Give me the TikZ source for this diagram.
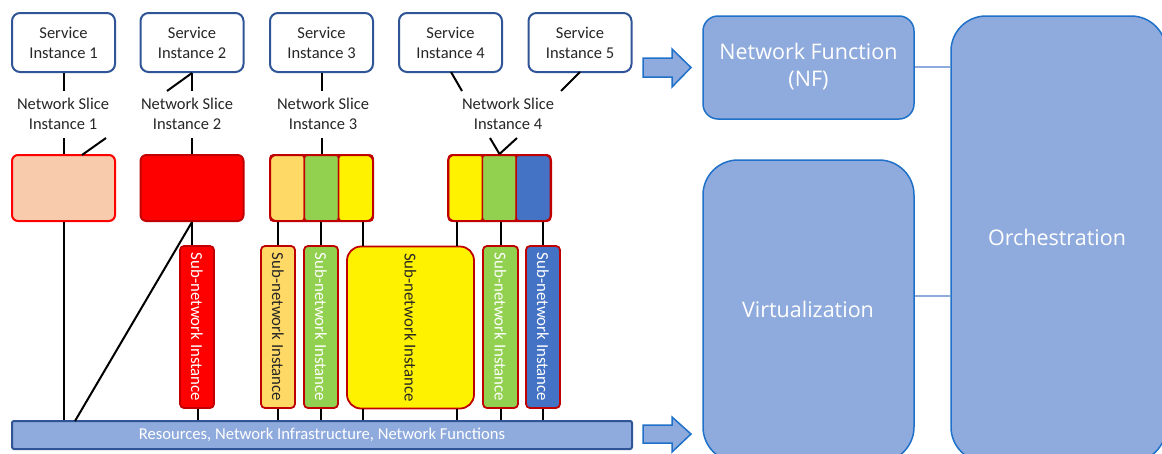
\documentclass[tikz,border=0pt]{standalone}
\usepackage{fontspec}
\setmainfont{Carlito}
\newfontfamily\uifont{Open Sans}
\usetikzlibrary{calc}

\definecolor{svcblue}{RGB}{47,85,151}
\definecolor{lightblue}{RGB}{143,170,220}
\definecolor{midblue}{RGB}{31,112,200}
\definecolor{peach}{RGB}{248,203,173}
\definecolor{darkred}{RGB}{192,0,0}
\definecolor{gold}{RGB}{255,217,102}
\definecolor{lgreen}{RGB}{146,208,80}
\definecolor{royal}{RGB}{68,114,196}
\definecolor{ink}{RGB}{38,38,38}

\tikzset{
  lbl/.style={font=\fontsize{16.5}{20}\selectfont, text=ink, align=center, inner sep=0pt},
  svcbox/.style={draw=svcblue, line width=2pt, fill=white, rounded corners=8pt,
    minimum width=103pt, minimum height=59pt, lbl},
  slicebox/.style={line width=2pt, rounded corners=6pt, minimum width=103pt, minimum height=66pt},
  segbox/.style={draw=darkred, line width=1.6pt, rounded corners=3pt, minimum width=34.3pt, minimum height=66pt},
  subbox/.style={draw=darkred, line width=1.8pt, rounded corners=4pt, minimum height=162pt},
  subtext/.style={rotate=-90, font=\fontsize{16.8}{18}\selectfont, inner sep=0pt},
  conn/.style={draw=black, line width=2pt},
  bigbox/.style={draw=midblue, line width=1.5pt, fill=lightblue},
  biglbl/.style={font=\uifont\fontsize{21.5}{27}\selectfont, text=white, align=center},
  blockarrow/.style={draw=midblue, line width=1.5pt, fill=lightblue, line join=miter},
  link/.style={draw=lightblue, line width=2.5pt}
}

\begin{document}
\begin{tikzpicture}[x=1pt, y=-1pt]
\useasboundingbox (0,0) rectangle (1162,453);
\clip (0,0) rectangle (1162,453);

% service instances
\node[svcbox] (si1) at (63.5,42.5) {Service\\Instance 1};
\node[svcbox] (si2) at (192,42.5) {Service\\Instance 2};
\node[svcbox] (si3) at (321.5,42.5) {Service\\Instance 3};
\node[svcbox] (si4) at (450.5,42.5) {Service\\Instance 4};
\node[svcbox] (si5) at (580,42.5) {Service\\Instance 5};

% network slice instance labels
\node[lbl] (nsi1) at (63,114) {Network Slice\\Instance 1};
\node[lbl] (nsi2) at (187,114) {Network Slice\\Instance 2};
\node[lbl] (nsi3) at (323,114) {Network Slice\\Instance 3};
\node[lbl] (nsi4) at (508,114) {Network Slice\\Instance 4};

% slice boxes
\node[slicebox, draw=red, fill=peach] (sb1) at (63.5,188) {};
\node[slicebox, draw=darkred, fill=red] (sb2) at (192,188) {};
\node[segbox, fill=gold] (sb3a) at (287.2,188) {};
\node[segbox, fill=lgreen] (sb3b) at (321.5,188) {};
\node[segbox, fill=yellow] (sb3c) at (355.8,188) {};
\node[slicebox, draw=darkred] (sb3) at (321.5,188) {};
\node[segbox, fill=yellow] (sb4a) at (465.7,188) {};
\node[segbox, fill=lgreen] (sb4b) at (499.5,188) {};
\node[segbox, fill=royal] (sb4c) at (533.3,188) {};
\node[slicebox, draw=darkred] (sb4) at (499.5,188) {};

% sub-network instances
\node[subbox, fill=red, minimum width=34pt] (snr) at (197,327) {};
\node[subtext, text=white] at (snr.center) {Sub-network Instance};
\node[subbox, fill=gold, minimum width=34pt] (sno) at (278,327) {};
\node[subtext, text=ink] at (sno.center) {Sub-network Instance};
\node[subbox, fill=lgreen, minimum width=34pt] (sng) at (321,327) {};
\node[subtext, text=white] at (sng.center) {Sub-network Instance};
\node[subbox, fill=yellow, minimum width=127pt, rounded corners=14pt] (sny) at (410.5,327.5) {};
\node[subtext, text=ink] at (sny.center) {Sub-network Instance};
\node[subbox, fill=lgreen, minimum width=35pt] (sng2) at (500.5,327) {};
\node[subtext, text=white] at (sng2.center) {Sub-network Instance};
\node[subbox, fill=royal, minimum width=34pt] (snb) at (543,327) {};
\node[subtext, text=white] at (snb.center) {Sub-network Instance};

% resources bar
\node[draw=svcblue, line width=2pt, fill=lightblue, rounded corners=2pt,
  minimum width=620pt, minimum height=28pt, text=white, inner sep=0pt,
  font=\fontsize{16.6}{18}\selectfont] (res) at (322,435)
  {Resources, Network Infrastructure, Network Functions};

% helper coordinates
\coordinate (nsi2in) at (167,91);
\coordinate (si4out) at (451,72);
\coordinate (nsi4a) at (462,91);
\coordinate (si5out) at (580,72);
\coordinate (nsi4b) at (561,91);
\coordinate (nsi1out) at (106,138);
\coordinate (sb1in) at (82,155);
\coordinate (nsi4l) at (490,138);
\coordinate (nsi4r) at (517,138);
\coordinate (res2) at (75,421);
\coordinate (xa) at (363,0);
\coordinate (xb) at (457,0);
\coordinate (xr) at (198,0);

% service to slice label
\draw[conn] (si1.south) -- (si1.south |- 0,91);
\draw[conn] (si2.south) -- (si2.south |- 0,91);
\draw[conn] (si2.south) -- (nsi2in);
\draw[conn] (si3.south) -- (si3.south |- 0,91);
\draw[conn] (si4out) -- (nsi4a);
\draw[conn] (si5out) -- (nsi4b);

% slice label to slice box
\draw[conn] (sb1.north |- 0,138) -- (sb1.north);
\draw[conn] (nsi1out) -- (sb1in);
\draw[conn] (sb2.north |- 0,138) -- (sb2.north);
\draw[conn] (sb3.north |- 0,138) -- (sb3.north);
\draw[conn] (nsi4l) -- (sb4.north);
\draw[conn] (nsi4r) -- (sb4.north);

% slice box to sub-networks and resources
\draw[conn] (sb1.south) -- (sb1.south |- res.north);
\draw[conn] (sb2.south) -- (sb2.south |- snr.north);
\draw[conn] (sb2.south) -- (res2);
\draw[conn] (sno.north |- sb3a.south) -- (sno.north);
\draw[conn] (sng.north |- sb3b.south) -- (sng.north);
\draw[conn] (xa |- sb3c.south) -- (xa |- sny.north);
\draw[conn] (xb |- sb4a.south) -- (xb |- sny.north);
\draw[conn] (sng2.north |- sb4b.south) -- (sng2.north);
\draw[conn] (snb.north |- sb4c.south) -- (snb.north);

\draw[conn] (xr |- snr.south) -- (xr |- res.north);
\draw[conn] (sno.south) -- (sno.south |- res.north);
\draw[conn] (sng.south) -- (sng.south |- res.north);
\draw[conn] (xa |- sny.south) -- (xa |- res.north);
\draw[conn] (xb |- sny.south) -- (xb |- res.north);
\draw[conn] (sng2.south) -- (sng2.south |- res.north);
\draw[conn] (snb.south) -- (snb.south |- res.north);

% right-hand blocks
\node[bigbox, rounded corners=15pt, minimum width=211pt, minimum height=103pt] (nf) at (808.5,67.5) {};
\node[biglbl] at (808.5,67) {Network Function\\(NF)};
\node[bigbox, rounded corners=35pt, minimum width=211pt, minimum height=302pt] (virt) at (808.5,311) {};
\node[biglbl] at (808,309) {Virtualization};
\node[bigbox, rounded corners=35pt, minimum width=215pt, minimum height=446pt] (orch) at (1058.5,239) {};
\node[biglbl] at (1057,237) {Orchestration};

\draw[link] (nf.east |- 0,67) -- (orch.west |- 0,67);
\draw[link] (virt.east |- 0,296) -- (orch.west |- 0,296);

% block arrows
\draw[blockarrow] (643,58) -- (672,58) -- (672,49) -- (691,67.5) -- (672,87) -- (672,77) -- (643,77) -- cycle;
\draw[blockarrow] (643,425) -- (672,425) -- (672,417) -- (691,434) -- (672,452) -- (672,443) -- (643,443) -- cycle;
\end{tikzpicture}
\end{document}
